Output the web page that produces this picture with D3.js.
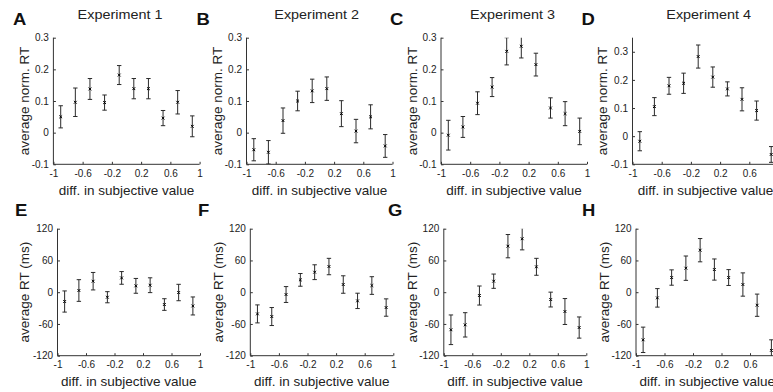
<!DOCTYPE html>
<html><head><meta charset="utf-8">
<script src="https://cdn.jsdelivr.net/npm/d3@7"></script>
<style>body{margin:0;background:#fff}svg{display:block}text{font-family:"Liberation Sans",Arial,Helvetica,sans-serif}</style>
</head><body>
<svg id="chart" width="773" height="392"></svg>
<script>
const xVals = [-0.9,-0.7,-0.5,-0.3,-0.1,0.1,0.3,0.5,0.7,0.9];
const xTicks = [-1,-0.6,-0.2,0.2,0.6,1];
const xTickLabels = ["-1","-0.6","-0.2","0.2","0.6","1"];
const normTicks = [-0.1,0,0.1,0.2,0.3];
const normTickLabels = ["-0.1","0","0.1","0.2","0.3"];
const msTicks = [-120,-60,0,60,120];
const msTickLabels = ["-120","-60","0","60","120"];
const titles = ["Experiment 1","Experiment 2","Experiment 3","Experiment 4"];
const letters = ["A","B","C","D","E","F","G","H"];
const xLabel = "diff. in subjective value";
const yLabelTop = "average norm. RT";
const yLabelBottom = "average RT (ms)";

const meanA = [0.05,0.096,0.138,0.095,0.182,0.139,0.139,0.046,0.096,0.02];
const errA  = [0.035,0.045,0.033,0.024,0.03,0.032,0.032,0.024,0.037,0.033];
const meanB = [-0.054,-0.062,0.038,0.1,0.132,0.139,0.06,0.005,0.05,-0.042];
const errB  = [0.035,0.037,0.04,0.031,0.037,0.037,0.041,0.037,0.038,0.036];
const meanC = [-0.008,0.018,0.093,0.144,0.257,0.273,0.215,0.078,0.06,0.004];
const errC  = [0.047,0.033,0.036,0.03,0.043,0.037,0.036,0.032,0.038,0.042];
const meanD = [-0.018,0.105,0.179,0.188,0.283,0.21,0.168,0.131,0.091,-0.065];
const errD  = [0.034,0.032,0.03,0.036,0.041,0.036,0.025,0.041,0.034,0.028];
const meanE = [-17.6,3.2,20.8,-9.5,27,12,13.2,-23.3,-0.6,-26];
const errE  = [20,20.5,16.5,10.5,12,14,14,11,15.5,17];
const meanF = [-41,-46,-4.4,23.3,37.8,48.5,14.5,-16.4,12.6,-29];
const errF  = [17,17,15,12,14,15.5,16.5,14.5,16.7,16.4];
const meanG = [-71,-61.7,-6.3,20.8,87,101,48,-13.9,-36.5,-66.8];
const errG  = [28,23,18,13.5,22,21,16,14,24.5,20];
const meanH = [-90,-10.7,27.7,45.4,79.4,42.8,27.7,14.5,-24.6,-110];
const errH  = [24,17.5,14.5,23,22,20,15,22,21,20];

const svg = d3.select("#chart");
const ink = "#222", axisCol = "#333";

const panels = [
  {L:"A", x0:53.4, x1:199.6, y0:37.7, y1:164.3, dom:[-0.1,0.3], ticks:normTicks, tl:normTickLabels, m:meanA, e:errA, yl:yLabelTop, ylx:25, lx:13, ly:25, tx:120, title:titles[0]},
  {L:"B", x0:246.5, x1:392.5, y0:37.7, y1:164.3, dom:[-0.1,0.3], ticks:normTicks, tl:normTickLabels, m:meanB, e:errB, yl:yLabelTop, ylx:218, lx:196.5, ly:25, tx:316.7, title:titles[1]},
  {L:"C", x0:441, x1:587, y0:37.7, y1:164.3, dom:[-0.1,0.3], ticks:normTicks, tl:normTickLabels, m:meanC, e:errC, yl:yLabelTop, ylx:413, lx:390, ly:25, tx:512.5, title:titles[2]},
  {L:"D", x0:632.5, x1:778.5, y0:37.7, y1:164.3, dom:[-0.1,0.35], ticks:normTicks, tl:normTickLabels, m:meanD, e:errD, yl:yLabelTop, ylx:603, lx:581.5, ly:25, tx:708.7, title:titles[3]},
  {L:"E", x0:57.5, x1:200, y0:228.7, y1:355.7, dom:[-120,120], ticks:msTicks, tl:msTickLabels, m:meanE, e:errE, yl:yLabelBottom, ylx:25, lx:15, ly:216},
  {L:"F", x0:250.3, x1:393.3, y0:228.7, y1:355.7, dom:[-120,120], ticks:msTicks, tl:msTickLabels, m:meanF, e:errF, yl:yLabelBottom, ylx:219, lx:198, ly:216},
  {L:"G", x0:443.8, x1:586.3, y0:228.7, y1:355.7, dom:[-120,120], ticks:msTicks, tl:msTickLabels, m:meanG, e:errG, yl:yLabelBottom, ylx:413, lx:388, ly:216},
  {L:"H", x0:636, x1:778.5, y0:228.7, y1:355.7, dom:[-120,120], ticks:msTicks, tl:msTickLabels, m:meanH, e:errH, yl:yLabelBottom, ylx:605, lx:582, ly:216}
];

const defs = svg.append("defs");

panels.forEach((p, i) => {
  const x = d3.scaleLinear().domain([-1,1]).range([p.x0, p.x1]);
  const y = d3.scaleLinear().domain(p.dom).range([p.y1, p.y0]);
  const g = svg.append("g");

  // clip
  defs.append("clipPath").attr("id","clip"+i).append("rect")
    .attr("x", p.x0).attr("y", p.y0).attr("width", p.x1 - p.x0).attr("height", p.y1 - p.y0);

  // x axis
  const xa = d3.axisBottom(x).tickValues(xTicks).tickSize(2.5).tickPadding(3.5)
    .tickFormat((d, k) => xTickLabels[k]);
  const gx = g.append("g").attr("transform", `translate(0,${p.y1})`).call(xa);
  gx.select(".domain").attr("stroke", axisCol).attr("d", `M${p.x0},0H${p.x1}`);
  gx.selectAll(".tick line").attr("stroke", axisCol).attr("y2", -2.5);
  gx.selectAll(".tick text").attr("fill", ink).attr("font-size", 10)
    .attr("font-family", '"Liberation Sans",Arial,sans-serif').attr("y", 5.5).attr("dy","0.71em");

  // y axis
  const ya = d3.axisLeft(y).tickValues(p.ticks).tickSize(2.5).tickPadding(3.5)
    .tickFormat((d, k) => p.tl[k]);
  const gy = g.append("g").attr("transform", `translate(${p.x0},0)`).call(ya);
  gy.select(".domain").attr("stroke", axisCol).attr("d", `M0,${p.y0}V${p.y1}`);
  gy.selectAll(".tick line").attr("stroke", axisCol).attr("x2", 2.5);
  gy.selectAll(".tick text").attr("fill", ink).attr("font-size", 10)
    .attr("font-family", '"Liberation Sans",Arial,sans-serif').attr("x", -4.5);

  // axis labels
  g.append("text").attr("x", (p.x0 + Math.min(p.x1, 773 + 70)) / 2).attr("y", p.y1 + 30.5)
    .attr("text-anchor","middle").attr("font-size", 13.5).attr("fill", ink)
    .attr("x", (p.x0 + p.x1) / 2).text(xLabel);
  g.append("text").attr("transform", `translate(${p.ylx + 4.3},${(p.y0 + p.y1) / 2}) rotate(-90)`)
    .attr("text-anchor","middle").attr("font-size", 13.5).attr("fill", ink).text(p.yl);

  // panel letter
  g.append("text").attr("transform", `translate(${p.lx},${p.ly}) scale(1.12,1)`)
    .attr("font-size", 16.5).attr("font-weight","bold").attr("fill","#111").text(p.L);

  // title
  if (p.title) {
    g.append("text").attr("transform", `translate(${p.tx},18.7) scale(1.2,1)`)
      .attr("text-anchor","middle").attr("font-size", 12).attr("fill", ink).text(p.title);
  }

  // error bars
  const data = xVals.map((v, k) => ({x: v, m: p.m[k], e: p.e[k]}));
  const eg = g.append("g").attr("clip-path", `url(#clip${i})`);
  const cap = 2.2;
  const sel = eg.selectAll("g.pt").data(data).enter().append("g").attr("class","pt");
  sel.append("path")
    .attr("d", d => {
      const cx = x(d.x), t = y(d.m + d.e), b = y(d.m - d.e);
      return `M${cx},${t}V${b}M${cx-cap},${t}H${cx+cap}M${cx-cap},${b}H${cx+cap}`;
    })
    .attr("stroke", "#2a2a2a").attr("stroke-width", 1).attr("fill","none");
  sel.append("path")
    .attr("d", d => {
      const cx = x(d.x), cy = y(d.m), r = 1.4;
      return `M${cx-r},${cy-r}L${cx+r},${cy+r}M${cx-r},${cy+r}L${cx+r},${cy-r}`;
    })
    .attr("stroke", "#000").attr("stroke-width", 1).attr("fill","none");
});
</script>
</body></html>
